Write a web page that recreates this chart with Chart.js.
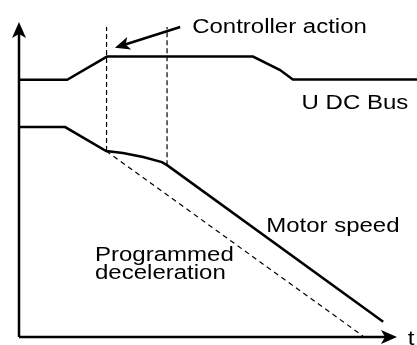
<!DOCTYPE html>
<html>
<head>
<meta charset="utf-8">
<script src="https://cdn.jsdelivr.net/npm/chart.js@4"></script>
<style>
  body { margin: 0; background: #fff; }
  canvas { display: block; }
</style>
</head>
<body>
<canvas id="chart" width="417" height="345"></canvas>
<script>
// time axis runs 0..100, level axis 0..100 (arbitrary units)
var busTime    = [0, 12.1, 22.1, 58.8, 65.6, 68.8, 100];
var busLevel   = [76.3, 76.3, 83.2, 83.2, 79.2, 76.4, 76.4];

var speedTime  = [0, 11.6, 21.9, 26.1, 31.2, 35.9, 37.2, 91.5];
var speedLevel = [62.3, 62.3, 55.2, 54.6, 53.4, 51.9, 51.0, 4.5];

var rampTime   = [21.9, 86.4];
var rampLevel  = [55.2, 0.3];

var markTimes  = [22.0, 37.2];
var markFrom   = [55.2, 51.0];
var markTop    = 92;

var labels = [
    { text: 'Controller action', t: 43.5, v: 90.2 },
    { text: 'U DC Bus',          t: 71.0, v: 67.7 },
    { text: 'Motor speed',       t: 62.1, v: 31.2 },
    { text: 'Programmed',        t: 19.1, v: 22.6 },
    { text: 'deceleration',      t: 19.1, v: 17.2 },
    { text: 't',                 t: 97.7, v: -2.3 }
];
var pointerFrom = { t: 40.5, v: 92.0 };
var pointerTo   = { t: 24.1, v: 85.8 };

function pts(xs, ys) {
    return xs.map(function (x, i) { return { x: x, y: ys[i] }; });
}

var datasets = [
    { data: pts(busTime, busLevel), borderColor: '#000', borderWidth: 2.5 },
    { data: pts(speedTime, speedLevel), borderColor: '#000', borderWidth: 2.5 },
    { data: pts(rampTime, rampLevel), borderColor: '#000', borderWidth: 1.2, borderDash: [5, 4] }
];
markTimes.forEach(function (t, i) {
    datasets.push({
        data: [{ x: t, y: markFrom[i] }, { x: t, y: markTop }],
        borderColor: '#000', borderWidth: 1.2, borderDash: [5, 3]
    });
});

function arrowHead(ctx, x0, y0, x1, y1, len, half) {
    var a = Math.atan2(y1 - y0, x1 - x0);
    ctx.beginPath();
    ctx.moveTo(x1, y1);
    ctx.lineTo(x1 - len * Math.cos(a) + half * Math.sin(a), y1 - len * Math.sin(a) - half * Math.cos(a));
    ctx.lineTo(x1 - len * Math.cos(a) * 0.75, y1 - len * Math.sin(a) * 0.75);
    ctx.lineTo(x1 - len * Math.cos(a) - half * Math.sin(a), y1 - len * Math.sin(a) + half * Math.cos(a));
    ctx.closePath();
    ctx.fill();
}

var sketch = {
    id: 'sketch',
    afterDraw: function (chart) {
        var ctx = chart.ctx;
        var xs = chart.scales.x, ys = chart.scales.y;
        var ox = xs.getPixelForValue(0), oy = ys.getPixelForValue(0);
        ctx.save();
        ctx.strokeStyle = '#000';
        ctx.fillStyle = '#000';
        ctx.lineWidth = 2.5;

        // axes
        var yTip = 22, xTip = 397;
        ctx.beginPath();
        ctx.moveTo(ox, oy);
        ctx.lineTo(ox, yTip + 10);
        ctx.moveTo(ox, oy);
        ctx.lineTo(xTip - 10, oy);
        ctx.stroke();
        arrowHead(ctx, ox, oy, ox, yTip, 16, 7);
        arrowHead(ctx, ox, oy, xTip, oy, 16, 7);

        // pointer to controller action
        var px0 = xs.getPixelForValue(pointerFrom.t), py0 = ys.getPixelForValue(pointerFrom.v);
        var px1 = xs.getPixelForValue(pointerTo.t), py1 = ys.getPixelForValue(pointerTo.v);
        var a = Math.atan2(py1 - py0, px1 - px0);
        ctx.beginPath();
        ctx.moveTo(px0, py0);
        ctx.lineTo(px1 - 10 * Math.cos(a), py1 - 10 * Math.sin(a));
        ctx.stroke();
        arrowHead(ctx, px0, py0, px1, py1, 15, 6.5);

        // text labels
        ctx.font = '20px "Liberation Sans", Arial, sans-serif';
        ctx.textBaseline = 'alphabetic';
        labels.forEach(function (l) {
            ctx.save();
            ctx.translate(xs.getPixelForValue(l.t), ys.getPixelForValue(l.v));
            ctx.scale(1.2, 1);
            ctx.fillText(l.text, 0, 0);
            ctx.restore();
        });
        ctx.restore();
    }
};

new Chart(document.getElementById('chart'), {
    type: 'line',
    data: { datasets: datasets },
    options: {
        responsive: false,
        animation: false,
        events: [],
        layout: { padding: { left: 19, right: 0, top: 0, bottom: 8 } },
        elements: { point: { radius: 0 }, line: { tension: 0, borderCapStyle: 'butt' } },
        plugins: { legend: { display: false }, tooltip: { enabled: false } },
        scales: {
            x: { type: 'linear', display: false, min: 0, max: 100 },
            y: { type: 'linear', display: false, min: 0, max: 100 }
        }
    },
    plugins: [sketch]
});
</script>
</body>
</html>
